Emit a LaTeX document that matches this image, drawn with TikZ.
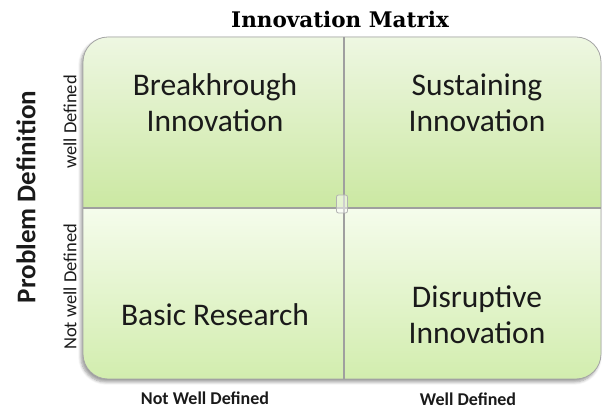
\documentclass[tikz,border=0pt]{standalone}
\usepackage{fontspec}
\setmainfont{Carlito}
\newfontfamily\titlefont{DejaVu Serif}
\usetikzlibrary{shadows.blur}
\definecolor{topA}{HTML}{EEF7E2}
\definecolor{topB}{HTML}{CBE8A2}
\definecolor{botA}{HTML}{F5FCEC}
\definecolor{botB}{HTML}{D2EDAE}
\definecolor{txt}{HTML}{1A1A1A}
\tikzset{
  quad/.style={font=\fontsize{31.5}{36}\selectfont, text=txt, align=center, inner sep=0pt},
  axis/.style={font=\fontsize{18.5}{20}\selectfont, text=txt, inner sep=0pt},
  baxis/.style={font=\bfseries\fontsize{18}{20}\selectfont, text=txt, inner sep=0pt},
  divider/.style={draw=gray!75, line width=1.2pt},
}
\begin{document}
\begin{tikzpicture}[x=1pt,y=1pt]
\useasboundingbox (0,0) rectangle (603,409);
% shadow
\fill[black!35, rounded corners=25pt, blur shadow={shadow xshift=-2pt, shadow yshift=-3pt, shadow blur steps=6, shadow blur radius=3pt}] (83,30) rectangle (601,372);
% matrix body
\begin{scope}
\clip[rounded corners=25pt] (83,30) rectangle (601,372);
\shade[top color=topA, bottom color=topB] (83,201) rectangle (601,372);
\shade[top color=botA, bottom color=botB] (83,30) rectangle (601,201);
\end{scope}
\draw[gray!70, line width=0.8pt, rounded corners=25pt] (83,30) rectangle (601,372);
\coordinate (vt) at (344,372);
\coordinate (vb) at (344,30);
\coordinate (hl) at (83,201);
\coordinate (hr) at (601,201);
\draw[divider] (vt) -- (vb);
\draw[divider] (hl) -- (hr);
\node[draw=gray!60, line width=0.8pt, fill=white, fill opacity=0.5, rounded corners=2pt, minimum width=11pt, minimum height=18pt, inner sep=0pt] (hub) at (342,205) {};
% texts
\node[font=\titlefont\bfseries\fontsize{21.5}{23}\selectfont, inner sep=0pt] (title) at (340,390) {Innovation Matrix};
\node[quad] (q1) at (215,306) {Breakhrough\\Innovation};
\node[quad] (q2) at (477,306) {Sustaining\\Innovation};
\node[quad] (q3) at (215,94) {Basic Research};
\node[quad] (q4) at (477,94) {Disruptive\\Innovation};
\node[font=\bfseries\fontsize{27}{29}\selectfont, text=txt, rotate=90, inner sep=0pt] (pd) at (26,212) {Problem Definition};
\node[axis, rotate=90] (wd) at (70,287) {well Defined};
\node[axis, rotate=90] (nwd) at (70,122) {Not well Defined};
\node[baxis] (xnwd) at (205,11) {Not Well Defined};
\node[baxis] (xwd) at (468,10) {Well Defined};
\end{tikzpicture}
\end{document}
